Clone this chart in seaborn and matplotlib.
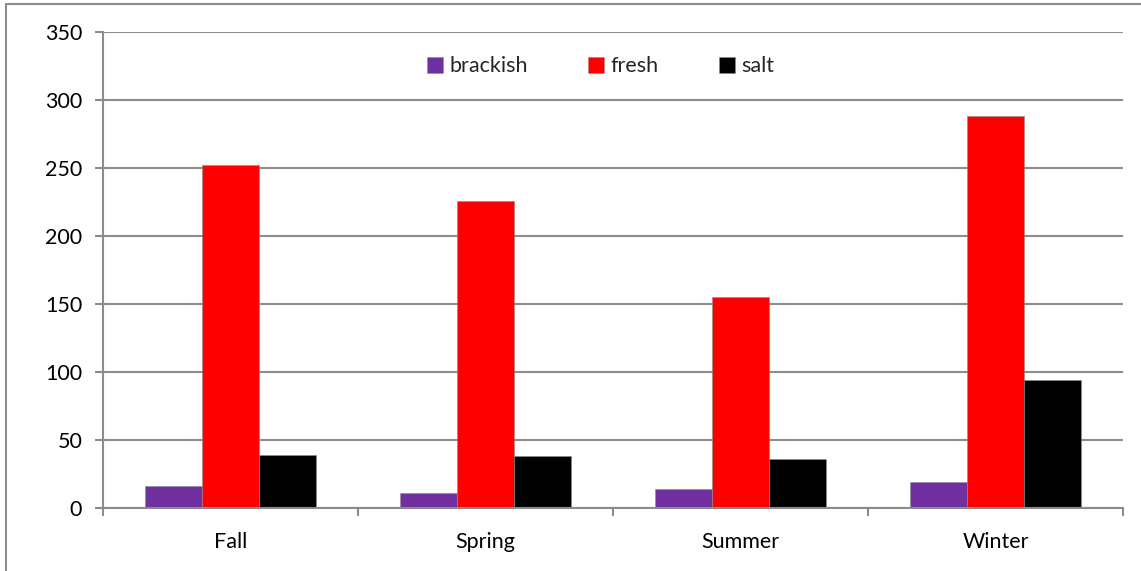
import pandas as pd
import seaborn as sns
import matplotlib.pyplot as plt
from matplotlib.patches import Rectangle

# ------------------------------
# Data
# ------------------------------
seasons = ["Fall", "Spring", "Summer", "Winter"]
brackish = [16, 11, 14, 19]
fresh = [252, 226, 155, 288]
salt = [39, 38, 36, 94]
water_types = ["brackish", "fresh", "salt"]
colors = ["#7030A0", "#FF0000", "#000000"]

df = pd.DataFrame({
    "season": seasons * 3,
    "type": [t for t in water_types for _ in seasons],
    "count": brackish + fresh + salt,
})

sns.set_style("white")
plt.rcParams["font.family"] = ["Lato", "DejaVu Sans"]

fig = plt.figure(figsize=(11.41, 5.71), dpi=100)
ax = fig.add_axes([103 / 1141, 1 - 508 / 571, (1123 - 103) / 1141, (508 - 32) / 571])

sns.barplot(data=df, x="season", y="count", hue="type", hue_order=water_types,
            palette=colors, order=seasons, width=0.667, saturation=1, ax=ax,
            edgecolor="#8c8c8c", linewidth=0.4, legend=True)

ax.set_ylim(0, 350)
ax.set_xlim(-0.5, 3.5)
ax.set_yticks(range(0, 351, 50))
ax.yaxis.grid(True, color="#8c8c8c", linewidth=1.5)
ax.set_axisbelow(True)
ax.set_xlabel("")
ax.set_ylabel("")

for s in ["top", "right"]:
    ax.spines[s].set_visible(False)
for s in ["left", "bottom"]:
    ax.spines[s].set_color("#8c8c8c")
    ax.spines[s].set_linewidth(1.5)

ax.tick_params(axis="y", left=True, length=6, width=1.5, color="#8c8c8c",
               labelsize=15.5, labelcolor="black", pad=9)
ax.tick_params(axis="x", which="major", length=0, labelsize=15.5,
               labelcolor="black", pad=17)
ax.set_xticks([-0.5, 0.5, 1.5, 2.5, 3.5], minor=True)
ax.tick_params(axis="x", which="minor", bottom=True, length=6, width=1.5,
               color="#8c8c8c")

ax.legend(loc="upper center", bbox_to_anchor=(0.488, 0.99), ncol=3, frameon=False,
          fontsize=15.5, handlelength=0.75, handleheight=0.75, handletextpad=0.3,
          columnspacing=2.8)

# outer chart border (right/bottom sides cropped off in the original)
fig.patches.append(Rectangle((6 / 1141, -0.5), 2, 1.5 - 4 / 571,
                             transform=fig.transFigure, fill=False,
                             edgecolor="#8c8c8c", linewidth=1.5))

fig.savefig("out.png", dpi=100)
